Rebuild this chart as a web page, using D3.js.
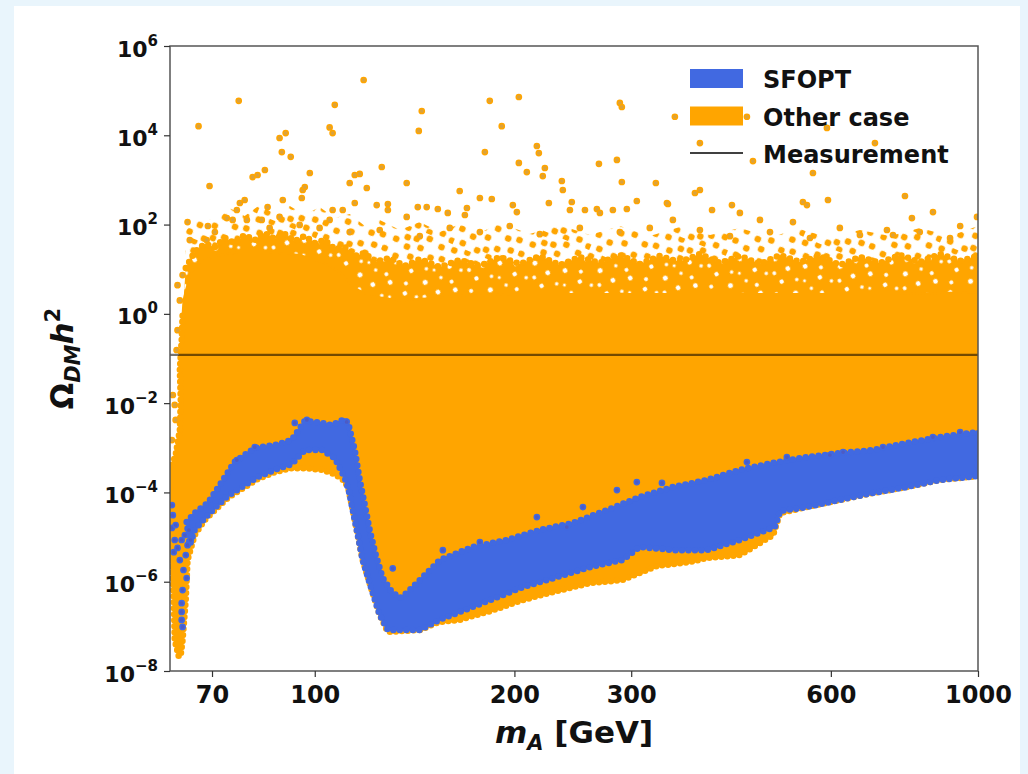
<!DOCTYPE html>
<html>
<head>
<meta charset="utf-8">
<script src="https://cdn.jsdelivr.net/npm/d3@7"></script>
<style>
  html, body { margin: 0; padding: 0; background: #e9f5fc; }
  svg { display: block; }
  text { font-family: "DejaVu Sans", sans-serif; font-weight: bold; fill: #111; }
</style>
</head>
<body>
<svg id="chart" width="1028" height="774"></svg>
<script>
// ---- axis ticks ----
const xMajorTicks = [70, 100, 200, 300, 600, 1000];
const xMinorTicks = [80, 90, 400, 500, 700, 800, 900];
const yTickExponents = [-8, -6, -4, -2, 0, 2, 4, 6];
const measurement = 0.12;

// ---- "Other case" dense cloud: upper edge of the filled core (m_A [GeV], Omega h^2) ----
const otherCoreTop = [[63.4,2.0],[64.8,7.4],[67.1,14.5],[70.7,19.8],[77.1,24.3],[85.5,24.3],[94.9,20.8],
  [102.5,14.5],[109.1,8.6],[114.9,3.8],[121.0,2.5],[134.4,2.0],[165.4,2.5],[203.8,2.8],[269.1,2.8],
  [380.8,2.8],[539,2.8],[763,2.8],[1000,3.1]];
// lower edge, from 1000 GeV back down to the resonance spike
const otherCoreBottom = [[1000,2.33e-4],[876,1.9e-4],[781,1.32e-4],[694,9.7e-5],[619,6.8e-5],[552,4.7e-5],
  [503,3.46e-5],[491,1.11e-5],[437.5,3.96e-6],[390,3.39e-6],[368,2.76e-6],[328,2.25e-6],[291,1.09e-6],
  [260,9.3e-7],[232,6.2e-7],[206,3.9e-7],[184,2.2e-7],[165,1.39e-7],[154,1.25e-7],[144,8.3e-8],
  [128.9,7.5e-8],[125.3,1.8e-7],[121.9,6.5e-7],[118.1,3.06e-6],[115.7,1.44e-5],[113.7,5.2e-5],
  [112.5,1.13e-4],[111.0,1.8e-4],[107.2,2.58e-4],[102.5,3.2e-4],[96.6,3.5e-4],[92.3,3.5e-4],
  [87.0,2.86e-4],[82.0,2.0e-4],[77.6,1.19e-4],[73.9,7.5e-5],[70.7,4.0e-5],[68.2,2.4e-5],[65.9,1.11e-5],
  [64.3,3.06e-6],[63.9,3.9e-7],[63.2,4.9e-8],[62.8,2.3e-8]];
// left edge, from the bottom of the spike upward
const otherCoreLeft = [[62.4,2.06e-8],[61.5,4.9e-8],[61.3,3.9e-7],[60.9,3.06e-6],[60.6,1.44e-5],
  [60.6,3.2e-4],[61.7,6.9e-4],[62.6,2.5e-3],[62.8,0.0117],[62.6,0.055],[63.0,0.26],[63.2,0.94]];
// ragged top of the nearly filled fringe above the core
const otherFringeTop = [[63.9,10.6],[65.9,24.3],[68.2,36.7],[70.7,31.4],[73.2,50.0],[75.7,38.6],
  [78.4,58.4],[81.2,45.1],[84.1,64.7],[87.0,47.5],[90.1,61.4],[93.3,42.8],[96.6,55.4],[100,38.6],
  [103.5,45.1],[107.2,28.3],[111.0,31.4],[114.9,19.8],[119.0,23.1],[123.2,14.5],[129.8,17.8],
  [136.7,11.8],[144.0,16.9],[154.4,11.2],[165.4,16.1],[177.4,11.8],[190.1,18.8],[203.8,13.1],
  [218.4,19.8],[234.2,12.4],[251.0,18.8],[269.1,13.8],[288.4,20.8],[309.1,13.1],[331.4,19.8],
  [355.3,14.5],[380.8,21.9],[408.2,13.8],[437.5,19.8],[469.1,13.1],[502.8,20.8],[539.0,14.5],
  [577.8,19.8],[619.3,12.4],[663.7,18.8],[711.5,13.8],[762.7,20.8],[817.6,14.5],[876.4,21.9],
  [939.5,15.3],[1000,19.8]];
// ragged top of the thin outer halo
const otherHaloTop = [[63.7,68.1],[67.1,172],[70.7,114],[74.4,235],[78.4,156],[82.6,274],[87.0,172],
  [91.7,261],[96.6,164],[101.7,247],[107.2,140],[112.9,172],[119.0,92.9],[125.3,127],[134.4,75.5],
  [144.0,114],[154.4,68.1],[165.4,103],[177.4,64.7],[190.1,108],[210.9,61.4],[234.2,98],[259.9,58.4],
  [288.4,92.9],[320.0,55.4],[355.3,88.1],[394.4,58.4],[437.5,84],[485.7,52.6],[539.0,79.6],[598,50],
  [663.7,75.5],[736.6,55.4],[817.6,84],[907.5,55.4],[1000,92.9]];

// ---- "Other case" isolated points ----
const otherPoints = [[76.8,5.9e4],[66.8,1.6e4],[107.2,4.8e4],[105.3,1.5e4],[106.4,1.12e4],[88.5,8.7e3],
  [90.4,1.12e4],[89.2,4.2e3],[92.0,3.3e3],[69.4,731],[80.6,1.16e3],[82.0,1.29e3],[84.1,1.67e3],
  [98.3,1.43e3],[64.3,114],[69.0,92.9],[73.7,140],[75.2,127],[76.3,212],[77.1,304],[78.4,355],
  [89.5,355],[95.6,394],[95.9,595],[96.6,694],[84.9,247],[68.7,45.1],[79.0,127],[83.2,127],
  [88.5,148],[106.4,212],[118.5,1.73e5],[145.0,3.5e4],[143.5,1.25e4],[183.6,5.9e4],[203.1,7.2e4],
  [191.4,1.6e4],[180.5,4.2e3],[216.2,5.75e3],[217.7,4.0e3],[288.4,5.3e4],[290.4,4.3e4],[349.1,2.6e4],
  [203.1,2.4e3],[208.8,1.5e3],[222.3,1.85e3],[220.7,1.22e3],[126.2,1.95e3],[137.6,853],[114.9,1.29e3],
  [116.9,1.36e3],[112.9,853],[119.8,659],[165.4,565],[177.4,394],[184.9,374],[235.8,946],[236.6,595],
  [268.2,2.3e3],[285.5,2.8e3],[290.4,898],[326.8,853],[225.4,304],[305.9,337],[340.8,289],[114.9,304],
  [124.0,274],[128.9,289],[128.9,212],[143.0,247],[147.5,247],[153.3,223],[158.7,182],[110.2,212],
  [244.1,320],[242.5,212],[255.5,212],[266.3,223],[269.1,182],[198.9,274],[201.7,191],[281.5,212],
  [295.5,223],[169.6,235],[168.4,164],[137.6,148],[448.3,2.6e4],[380.8,6.7e3],[591.9,1.46e4],
  [699.2,6.7e3],[457.8,2.65e3],[563.8,1.43e3],[380.8,595],[374.3,509],[594.0,355],[544.5,320],
  [552.2,274],[795.0,140],[855.3,191],[996.6,148],[339.6,304],[397.2,212],[425.6,274],[437.5,182],
  [469.1,127],[526.0,114],[663.7,58.4],[729.0,75.5],[744.4,58.4],[907.5,50],[346.7,127],[776,437],
  [94.9,98],[101.7,84],[112.9,68],[125.3,75.5],[144.0,55],[159.8,84],[177.4,68],[196.8,92.9],
  [218.4,61],[251,84],[288.4,68],[320,84],[380.8,75.5],[422.7,55],[485.7,68],[558,50],[619,84],
  [817,68],[940,92.9],[85.5,84],[70.7,68],[64.8,45],[105.3,127],
  [61.1,0.0152],[61.5,9.1e-3],[61.7,4.2e-3],[60.9,1.49e-3],[62.1,0.43],[61.9,0.155],[62.6,2.0],
  [62.1,4.4],[63.2,7.4]];

// ---- SFOPT band ----
const sfoptTop = [[64.1,2.17e-5],[65.9,3.46e-5],[69.0,5.8e-5],[72.4,1.71e-4],[75.7,4.8e-4],[81.2,9.9e-4],
  [87.0,1.15e-3],[92.3,1.49e-3],[96.6,4.0e-3],[102.5,3.6e-3],[106.1,3.2e-3],[111.0,4.4e-3],
  [112.5,3.2e-3],[114.9,8.9e-4],[116.9,1.9e-4],[119.0,5.2e-5],[121.0,1.44e-5],[123.6,3.96e-6],
  [126.6,1.21e-6],[130.7,5.9e-7],[134.4,4.3e-7],[137.6,5.6e-7],[145.5,1.27e-6],[154.4,3.06e-6],
  [173.1,6.0e-6],[194.8,8.6e-6],[218.4,1.44e-5],[245.0,2.07e-5],[275.7,4.0e-5],[309.1,7.9e-5],
  [346.7,1.32e-4],[390.3,1.9e-4],[437.5,3.2e-4],[490.8,4.6e-4],[552,6.2e-4],[619,7.6e-4],
  [694,8.9e-4],[781,1.28e-3],[876,1.74e-3],[1000,2.25e-3]];
const sfoptBottom = [[1000,2.33e-4],[876,1.9e-4],[781,1.32e-4],[694,9.7e-5],[619,6.8e-5],[552,4.7e-5],
  [503,3.83e-5],[494,1.68e-5],[437.5,8.6e-6],[390,5.1e-6],[347,5.1e-6],[309,6.0e-6],[291,3.06e-6],
  [260,2.13e-6],[232,1.27e-6],[206,7.6e-7],[184,3.9e-7],[164,2.0e-7],[154,1.39e-7],[144,8.3e-8],
  [128.9,8.3e-8],[125.3,1.8e-7],[121.9,6.5e-7],[118.1,3.06e-6],[115.7,1.44e-5],[113.7,5.2e-5],
  [112.5,1.13e-4],[111.0,2.1e-4],[107.2,5.9e-4],[102.5,8.9e-4],[96.6,8.9e-4],[92.3,4.3e-4],
  [87.0,3.2e-4],[82.0,2.2e-4],[77.6,1.32e-4],[73.9,8.3e-5],[70.7,4.5e-5],[68.2,2.6e-5],
  [65.9,1.44e-5],[64.8,6.6e-6]];
// isolated SFOPT points (resonance spike and stragglers above the band)
const sfoptPoints = [[60.9,5.2e-5],[61.1,3.1e-5],[60.9,1.6e-5],[61.5,8.6e-6],[62.1,5.7e-6],[63.0,8.6e-6],
  [63.7,1.11e-5],[64.3,6.6e-6],[63.9,3.96e-6],[62.6,3.06e-6],[63.4,1.83e-6],[64.1,1.21e-6],
  [63.2,6.5e-7],[63.0,3.3e-7],[63.0,2.1e-7],[63.0,1.39e-7],[63.2,9.7e-8],[61.7,1.86e-5],
  [61.3,4.6e-6],[64.6,1.44e-5],[65.0,8.6e-6],
  [253.7,4.7e-5],[216.2,2.8e-5],[239.9,1.68e-5],[285.5,1.13e-4],[305.9,1.71e-4],[156.0,5.1e-6],
  [177.4,7.7e-6],[131.1,2.0e-6],[333.8,1.63e-4],[448.3,4.8e-4],[515,6.2e-4],[598,6.9e-4],
  [626,8.0e-4],[719,1.04e-3],[855,1.74e-3],[940,2.25e-3],[81.2,1.04e-3],[76.3,5.3e-4],
  [93.3,3.6e-3],[97.3,4.2e-3],[111.7,3.8e-3]];

const legendItems = [
  { label: "SFOPT", kind: "patch", color: "#4169e1" },
  { label: "Other case", kind: "patch", color: "#ffa500" },
  { label: "Measurement", kind: "line", color: "#000" }
];

// ---- layout ----
const H = 774;
const plot = { left: 170, right: 978, top: 46, bottom: 671 };
const ORANGE = "#ffa500", BLUE = "#4169e1";

const svg = d3.select("#chart");
const defs = svg.append("defs");

// marker textures for the partially filled fringes of the cloud
function texture(id, w, h, angle, circles, colour) {
  const p = defs.append("pattern").attr("id", id).attr("patternUnits", "userSpaceOnUse")
    .attr("width", w).attr("height", h).attr("patternTransform", `rotate(${angle})`);
  circles.forEach(c => p.append("circle").attr("cx", c[0]).attr("cy", c[1]).attr("r", c[2]).attr("fill", colour));
}
// scattered markers for the outer halo
texture("haloDots", 64, 48, 23, [[4,5,3.3],[17,2,3.3],[29,9,3.3],[41,4,3.3],[55,7,3.3],[10,17,3.3],[23,20,3.3],
  [36,16,3.3],[49,21,3.3],[60,18,3.3],[3,30,3.3],[16,33,3.3],[30,28,3.3],[43,35,3.3],[56,31,3.3],
  [9,43,3.3],[25,44,3.3],[38,46,3.3],[51,42,3.3],[62,45,3.3],[33,40,3.3],[20,11,3.3]], ORANGE);
// gaps between markers inside the nearly filled fringe
texture("fringeGaps", 52, 40, -31, [[5,4,2.2],[19,10,1.8],[33,3,2.4],[46,12,2.0],[11,21,2.5],[27,25,1.7],
  [40,20,2.3],[3,33,1.9],[17,36,2.4],[34,34,2.0],[48,29,1.8],[25,15,1.5]], "#fff");

// white card
svg.append("rect").attr("x", 14).attr("y", 6).attr("width", 1006).attr("height", H - 6).attr("fill", "#fff");

const x = d3.scaleLog().domain([60.5, 1000]).range([plot.left, plot.right]);
const y = d3.scaleLog().domain([1e-8, 1e6]).range([plot.bottom, plot.top]);

defs.append("clipPath").attr("id", "plotClip")
  .append("rect").attr("x", plot.left).attr("y", plot.top)
  .attr("width", plot.right - plot.left).attr("height", plot.bottom - plot.top);

const layer = svg.append("g").attr("clip-path", "url(#plotClip)");
const outline = d3.line().x(d => x(d[0])).y(d => y(d[1])).curve(d3.curveLinearClosed);
const openLine = d3.line().x(d => x(d[0])).y(d => y(d[1]));

// outer halo of the "Other case" cloud
layer.append("path")
  .attr("d", outline(otherHaloTop.concat(otherFringeTop.slice().reverse())))
  .attr("fill", "url(#haloDots)");

// nearly filled fringe: orange with small gaps
const fringe = outline(otherFringeTop.concat(otherCoreTop.slice().reverse()));
layer.append("path").attr("d", fringe).attr("fill", ORANGE);
layer.append("path").attr("d", fringe).attr("fill", "url(#fringeGaps)");
layer.append("path").attr("d", openLine(otherFringeTop))
  .attr("fill", "none").attr("stroke", ORANGE).attr("stroke-width", 6.5)
  .attr("stroke-linecap", "round").attr("stroke-dasharray", "0 7");

// dense "Other case" cloud
const coreOutline = otherCoreTop.concat(otherCoreBottom, otherCoreLeft);
layer.append("path").attr("d", outline(coreOutline))
  .attr("fill", ORANGE).attr("stroke", ORANGE).attr("stroke-width", 2).attr("stroke-linejoin", "round");
// dotted rim so the cloud edge reads as markers
layer.append("path").attr("d", openLine(otherCoreBottom.concat(otherCoreLeft)))
  .attr("fill", "none").attr("stroke", ORANGE).attr("stroke-width", 6.5)
  .attr("stroke-linecap", "round").attr("stroke-dasharray", "0 6");

// isolated "Other case" points
layer.append("g").selectAll("circle").data(otherPoints).join("circle")
  .attr("cx", d => x(d[0])).attr("cy", d => y(d[1])).attr("r", 2.6)
  .attr("fill", "#d9a23e").attr("stroke", ORANGE).attr("stroke-width", 1.5);

// SFOPT band
const band = outline(sfoptTop.concat(sfoptBottom));
layer.append("path").attr("d", band)
  .attr("fill", BLUE).attr("stroke", BLUE).attr("stroke-width", 1.5).attr("stroke-linejoin", "round");
layer.append("path").attr("d", band)
  .attr("fill", "none").attr("stroke", BLUE).attr("stroke-width", 6.5)
  .attr("stroke-linecap", "round").attr("stroke-dasharray", "0 6.5");

layer.append("g").selectAll("circle").data(sfoptPoints).join("circle")
  .attr("cx", d => x(d[0])).attr("cy", d => y(d[1])).attr("r", 2.6)
  .attr("fill", "#4d5bc4").attr("stroke", BLUE).attr("stroke-width", 1.5);

// measured relic density
layer.append("line")
  .attr("x1", x(60.5)).attr("x2", x(1000))
  .attr("y1", y(measurement)).attr("y2", y(measurement))
  .attr("stroke", "#000").attr("stroke-opacity", 0.55).attr("stroke-width", 2.2);

// ---- frame ----
svg.append("rect").attr("x", plot.left).attr("y", plot.top)
  .attr("width", plot.right - plot.left).attr("height", plot.bottom - plot.top)
  .attr("fill", "none").attr("stroke", "#555").attr("stroke-width", 1.5);

// ---- x axis ----
const xAxisG = svg.append("g").attr("transform", `translate(0,${plot.bottom})`);
xAxisG.call(d3.axisBottom(x).tickValues(xMinorTicks).tickSize(3.5).tickFormat(""));
xAxisG.call(d3.axisBottom(x).tickValues(xMajorTicks).tickSize(6).tickFormat(d3.format("d")));
xAxisG.selectAll(".domain").remove();
xAxisG.selectAll(".tick line").attr("stroke", "#333").attr("stroke-width", 1.2);
xAxisG.selectAll(".tick text")
  .attr("y", 32).attr("dy", null)
  .style("font-family", "DejaVu Sans").style("font-weight", "bold").style("font-size", "24px")
  .attr("fill", "#111");

// ---- y axis ----
const yTicks = yTickExponents.map(e => Math.pow(10, e));
const yAxisG = svg.append("g").attr("transform", `translate(${plot.left},0)`);
yAxisG.call(d3.axisLeft(y).tickValues(yTicks).tickSize(6).tickFormat(""));
yAxisG.selectAll(".domain").remove();
yAxisG.selectAll(".tick line").attr("stroke", "#333").attr("stroke-width", 1.2);
yAxisG.selectAll(".tick").each(function(d) {
  const e = Math.round(Math.log10(d));
  const t = d3.select(this).append("text")
    .attr("x", -12).attr("y", 10).attr("text-anchor", "end").attr("fill", "#111")
    .style("font-size", "22px");
  t.append("tspan").text("10");
  t.append("tspan").attr("dy", -11).style("font-size", "15px").text(e < 0 ? "\u2212" + (-e) : String(e));
});

// ---- axis titles ----
const xt = svg.append("text").attr("x", (plot.left + plot.right) / 2).attr("y", 743)
  .attr("text-anchor", "middle").style("font-size", "31px");
xt.append("tspan").style("font-style", "italic").text("m");
xt.append("tspan").style("font-style", "italic").style("font-size", "21px").attr("dy", 7).text("A");
xt.append("tspan").attr("dy", -7).text(" [GeV]");

const yt = svg.append("text")
  .attr("transform", `translate(73,${(plot.top + plot.bottom) / 2}) rotate(-90)`)
  .attr("text-anchor", "middle").style("font-size", "31px");
yt.append("tspan").text("\u03a9");
yt.append("tspan").style("font-style", "italic").style("font-size", "21px").attr("dy", 7).text("DM");
yt.append("tspan").style("font-style", "italic").attr("dy", -7).text("h");
yt.append("tspan").style("font-size", "21px").attr("dy", -13).text("2");

// ---- legend ----
const lg = svg.append("g").attr("transform", "translate(690,68)");
legendItems.forEach((it, i) => {
  const gy = i * 37.5;
  if (it.kind === "patch") {
    lg.append("rect").attr("x", 0).attr("y", gy + 1).attr("width", 53).attr("height", 19).attr("fill", it.color);
  } else {
    lg.append("line").attr("x1", 0).attr("x2", 53).attr("y1", gy + 10).attr("y2", gy + 10)
      .attr("stroke", it.color).attr("stroke-width", 1.5);
  }
  lg.append("text").attr("x", 73).attr("y", gy + 20).style("font-size", "24px").text(it.label);
});
</script>
</body>
</html>
